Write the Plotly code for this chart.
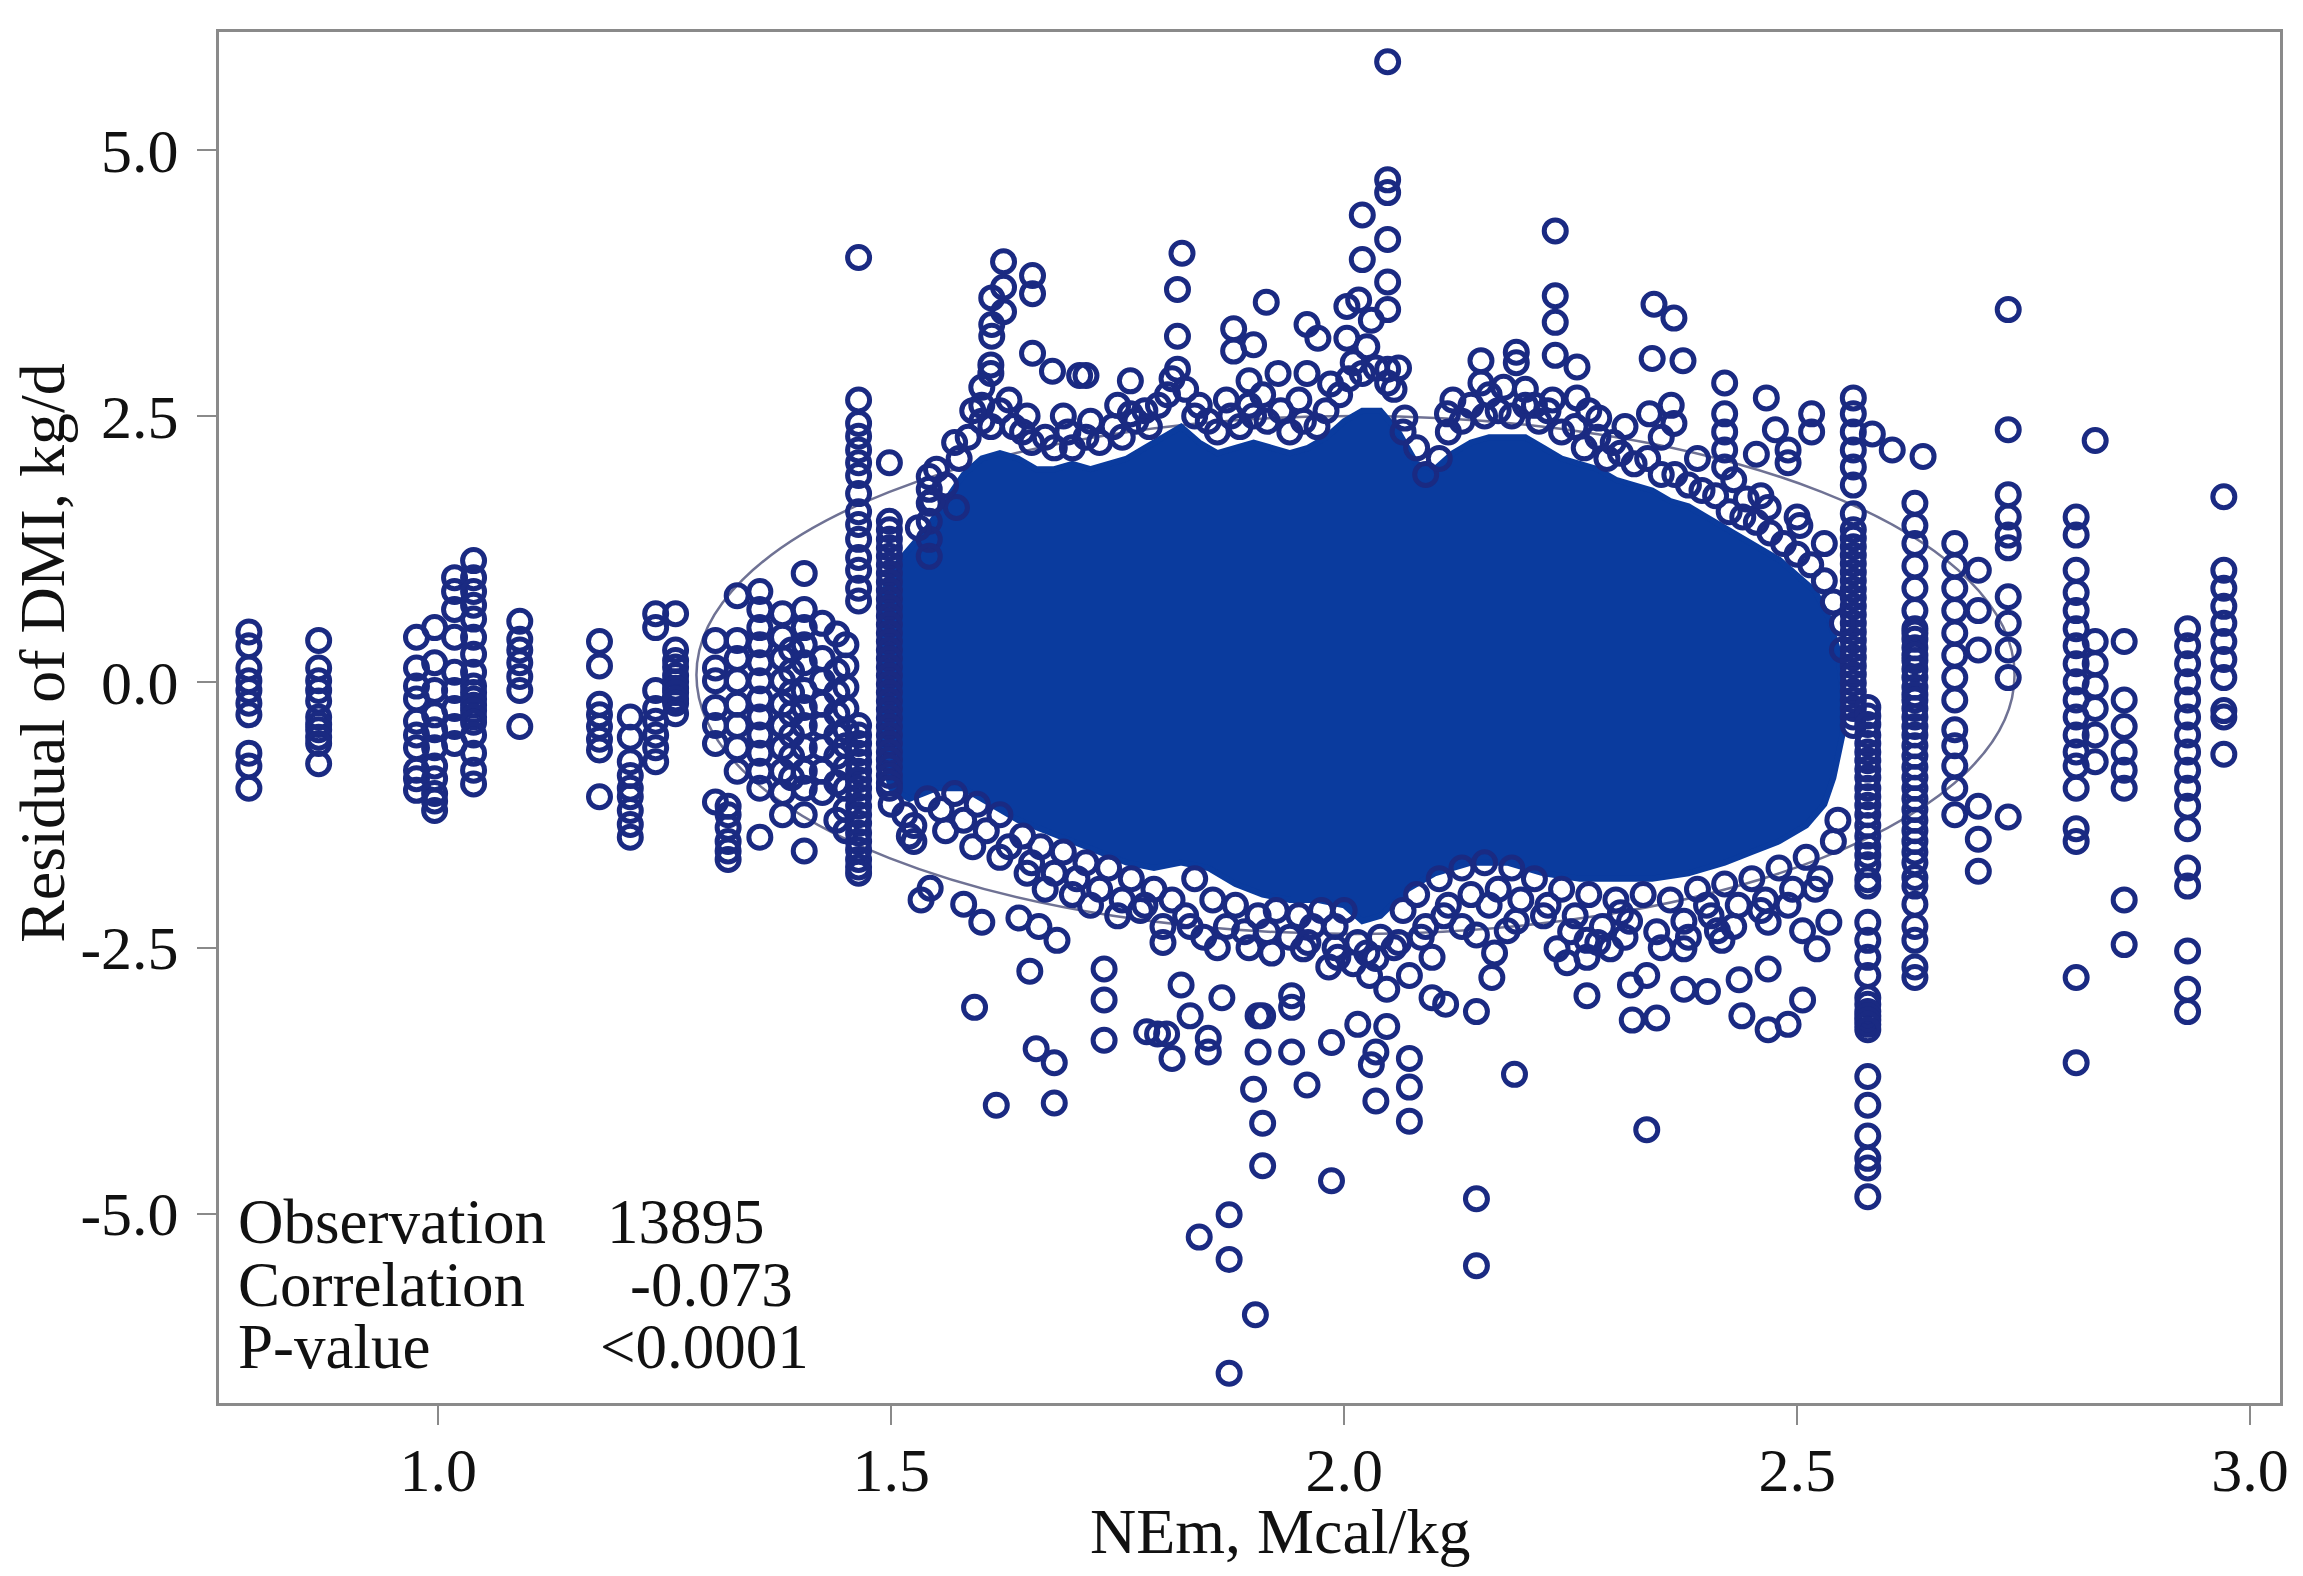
import plotly.graph_objects as go

# ---- data (NEm, Mcal/kg  vs  residual of DMI, kg/d) ----

# columns of observations stacked at one NEm value
stack_nem = [0.791, 0.868, 0.976, 0.996, 1.018, 1.039, 1.09, 1.178, 1.212, 1.24, 1.262,
             1.306, 1.32, 1.33, 1.355, 1.38, 1.39, 1.404, 1.424, 1.44, 1.45, 1.464, 1.498,
             1.542, 2.562, 2.578, 2.63, 2.674, 2.70, 2.733, 2.808, 2.829, 2.861, 2.931,
             2.971]
stack_resid = [
    [0.47, 0.34, 0.13, 0.01, -0.08, -0.20, -0.31, -0.67, -0.79, -1.00],
    [0.39, 0.13, 0.01, -0.08, -0.18, -0.33, -0.40, -0.45, -0.52, -0.58, -0.77],
    [0.42, 0.13, -0.04, -0.16, -0.37, -0.50, -0.62, -0.83, -0.91, -1.02],
    [0.51, 0.18, -0.08, -0.31, -0.45, -0.62, -0.79, -0.91, -1.05, -1.12, -1.21],
    [0.98, 0.85, 0.68, 0.42, 0.09, -0.08, -0.25, -0.42, -0.58],
    [1.14, 0.98, 0.85, 0.72, 0.59, 0.42, 0.26, 0.09, -0.04, -0.10, -0.16, -0.22, -0.27,
     -0.33, -0.38, -0.50, -0.67, -0.83, -0.96],
    [0.57, 0.40, 0.30, 0.18, 0.05, -0.08, -0.42],
    [0.38, 0.15, -0.21, -0.31, -0.42, -0.54, -0.64, -1.08],
    [-0.33, -0.52, -0.75, -0.88, -1.00, -1.08, -1.21, -1.34, -1.46],
    [0.64, 0.51, -0.08, -0.25, -0.37, -0.50, -0.62, -0.75],
    [0.64, 0.30, 0.20, 0.14, 0.06, 0.0, -0.06, -0.10, -0.16, -0.20, -0.30],
    [0.39, 0.13, 0.01, -0.24, -0.41, -0.58, -1.13],
    [-1.17, -1.25, -1.37, -1.50, -1.59, -1.67],
    [0.81, 0.39, 0.22, 0.01, -0.21, -0.41, -0.62, -0.84],
    [0.85, 0.68, 0.51, 0.35, 0.18, 0.01, -0.16, -0.33, -0.50, -0.67, -0.84, -1.00, -1.46],
    [0.64, 0.42, 0.22, 0.01, -0.21, -0.41, -0.62, -0.84, -1.04, -1.25],
    [0.30, 0.10, -0.10, -0.30, -0.50, -0.70, -0.90],
    [1.02, 0.68, 0.51, 0.35, 0.18, -0.08, -0.24, -0.41, -0.62, -0.84, -1.00, -1.25, -1.59],
    [0.55, 0.22, 0.01, -0.21, -0.41, -0.62, -0.84, -1.04],
    [0.45, 0.10, -0.10, -0.30, -0.50, -0.70, -0.95, -1.30],
    [0.35, 0.15, -0.05, -0.25, -0.45, -0.60, -0.80, -1.00, -1.20, -1.40],
    [3.99, 2.65, 2.43, 2.31, 2.18, 2.06, 1.94, 1.77, 1.60, 1.48, 1.34, 1.17, 1.05, 0.88,
     0.76, -0.41, -0.50, -0.58, -0.67, -0.75, -0.84, -0.92, -1.00, -1.08, -1.17, -1.25,
     -1.33, -1.42, -1.50, -1.58, -1.67, -1.74, -1.80],
    [2.06, 1.51, 1.43, 1.34, 1.26, 1.18, 1.10, 1.02, 0.94, 0.86, 0.78, 0.70, 0.62, 0.54,
     0.46, 0.38, 0.30, 0.22, 0.14, 0.06, -0.02, -0.10, -0.18, -0.26, -0.34, -0.42, -0.50,
     -0.58, -0.66, -0.73, -0.80, -0.88, -0.95, -1.00],
    [1.93, 1.81, 1.68, 1.51, 1.34, 1.18],
    [2.67, 2.52, 2.35, 2.18, 2.02, 1.85, 1.58, 1.43, 1.35, 1.27, 1.19, 1.11, 1.03, 0.95,
     0.87, 0.79, 0.71, 0.63, 0.55, 0.47, 0.39, 0.31, 0.23, 0.15, 0.07, -0.01, -0.09,
     -0.17, -0.25, -0.33, -0.41],
    [-0.24, -0.32, -0.40, -0.50, -0.58, -0.66, -0.74, -0.82, -0.90, -1.00, -1.08, -1.16,
     -1.25, -1.35, -1.45, -1.55, -1.63, -1.72, -1.86, -1.92, -2.26, -2.43, -2.59, -2.76,
     -2.97, -3.03, -3.10, -3.14, -3.18, -3.22, -3.27, -3.71, -3.98, -4.27, -4.48, -4.57,
     -4.84],
    [1.68, 1.47, 1.30, 1.09, 0.88, 0.67, 0.50, 0.46, 0.40, 0.32, 0.25, 0.20, 0.12, 0.04,
     -0.05, -0.12, -0.17, -0.25, -0.33, -0.42, -0.50, -0.60, -0.70, -0.80, -0.90, -1.00,
     -1.10, -1.20, -1.30, -1.40, -1.50, -1.60, -1.70, -1.84, -1.92, -2.09, -2.30, -2.43,
     -2.68, -2.78],
    [1.30, 1.09, 0.88, 0.67, 0.46, 0.25, 0.04, -0.17, -0.45, -0.60, -0.79, -1.00, -1.25],
    [1.05, 0.67, 0.30, -1.17, -1.48, -1.78],
    [3.50, 2.37, 1.76, 1.55, 1.38, 1.26, 0.80, 0.55, 0.30, 0.04, -1.27],
    [1.55, 1.38, 1.05, 0.84, 0.67, 0.50, 0.34, 0.17, 0.0, -0.17, -0.33, -0.50, -0.66,
     -0.79, -1.00, -1.38, -1.50, -2.78, -3.58],
    [2.27, 0.38, 0.17, -0.04, -0.25, -0.50, -0.75],
    [0.38, -0.17, -0.42, -0.66, -0.83, -1.00, -2.05, -2.47],
    [0.50, 0.34, 0.17, 0.0, -0.17, -0.33, -0.50, -0.66, -0.83, -1.00, -1.17, -1.38,
     -1.75, -1.92, -2.53, -2.89, -3.10],
    [1.74, 1.05, 0.88, 0.71, 0.55, 0.38, 0.21, 0.04, -0.27, -0.33, -0.68],
]

# isolated observations above the main cloud
upper_points = [
    (1.624, 3.95), (1.624, 3.71), (1.611, 3.61), (1.624, 3.48), (1.611, 3.36), (1.611, 3.25),
    (1.656, 3.82), (1.656, 3.65), (1.656, 3.09), (1.61, 2.98), (1.61, 2.90), (1.60, 2.77),
    (1.60, 2.60), (1.678, 2.92), (1.708, 2.88), (1.715, 2.88), (1.764, 2.83), (1.764, 2.52),
    (1.821, 4.03), (1.816, 3.69), (1.816, 3.25), (1.816, 2.94), (1.914, 3.57), (1.878, 3.32),
    (1.90, 3.17), (1.878, 3.11), (1.895, 2.83), (1.895, 2.60), (1.927, 2.90), (1.959, 3.36),
    (1.971, 3.23), (1.959, 2.90), (2.048, 5.83), (2.048, 4.72), (2.048, 4.60), (2.02, 4.39),
    (2.048, 4.16), (2.02, 3.97), (2.048, 3.76), (2.016, 3.59), (2.003, 3.53), (2.048, 3.50),
    (2.03, 3.40), (2.003, 3.23), (2.025, 3.15), (2.048, 2.94), (2.048, 2.81), (2.151, 3.02),
    (2.151, 2.81), (2.19, 3.10), (2.19, 3.00), (2.176, 2.77), (2.21, 2.60), (2.114, 2.52),
    (2.067, 2.48), (2.233, 4.24), (2.233, 3.63), (2.233, 3.38), (2.233, 3.07), (2.257, 2.96),
    (2.257, 2.67), (2.281, 2.48), (2.297, 2.25), (2.342, 3.55), (2.364, 3.42), (2.34, 3.04),
    (2.374, 3.02), (2.337, 2.52), (2.361, 2.60), (2.364, 2.43), (2.42, 2.81), (2.466, 2.67),
    (2.42, 2.52), (2.42, 2.35), (2.42, 2.18), (2.42, 2.02), (2.476, 2.37), (2.516, 2.52),
    (2.516, 2.35), (2.49, 2.18), (2.49, 2.06), (2.455, 2.14), (2.444, 1.72), (2.468, 1.64),
    (2.503, 1.47), (2.583, 2.33), (2.605, 2.18), (2.639, 2.12), (1.572, 1.64),
]

# isolated observations below the main cloud
lower_points = [
    (1.873, -6.50), (1.902, -5.95), (1.873, -5.43), (1.84, -5.22), (1.873, -5.01),
    (2.146, -4.86), (2.146, -5.49), (1.986, -4.69), (1.91, -4.55), (1.91, -4.15),
    (1.90, -3.83), (2.072, -4.13), (2.072, -3.81), (2.072, -3.54), (2.035, -3.94),
    (2.03, -3.60), (2.035, -3.48), (2.188, -3.69), (1.959, -3.79), (1.942, -3.48),
    (1.942, -3.06), (1.942, -2.95), (1.986, -3.39), (2.015, -3.22), (2.047, -3.24),
    (2.146, -3.10), (2.163, -2.78), (1.905, -3.48), (1.905, -3.14), (1.85, -3.48),
    (1.85, -3.35), (1.81, -3.54), (1.782, -3.29), (1.794, -3.31), (1.804, -3.31),
    (1.735, -3.37), (1.735, -2.99), (1.735, -2.70), (1.68, -3.96), (1.68, -3.58),
    (1.66, -3.45), (1.616, -3.98), (1.592, -3.06), (1.653, -2.72), (1.533, -2.05),
    (1.543, -1.94), (1.525, -1.50), (1.58, -2.09), (1.60, -2.26), (1.641, -2.22),
    (1.663, -2.30), (1.683, -2.43), (1.82, -2.85), (1.83, -3.14), (1.865, -2.97),
    (1.91, -3.14), (2.097, -2.97), (2.112, -3.03), (1.983, -2.68), (2.028, -2.76),
    (2.047, -2.89), (2.072, -2.76), (2.097, -2.59), (2.146, -2.38), (2.166, -2.55),
    (2.18, -2.34), (1.955, -2.51), (1.993, -2.59), (2.334, -4.21), (2.468, -2.26),
    (2.468, -2.70), (2.506, -2.99), (2.49, -3.22), (2.468, -3.27), (2.436, -2.80),
    (2.439, -3.14), (2.401, -2.91), (2.375, -2.51), (2.375, -2.89), (2.334, -2.76),
    (2.318, -3.18), (2.345, -3.16), (2.268, -2.95), (2.316, -2.85), (2.235, -2.51),
    (2.246, -2.64), (2.268, -2.43), (2.268, -2.59), (2.294, -2.51), (2.305, -2.17),
    (2.412, -2.34), (2.417, -2.43), (2.506, -2.34), (2.522, -2.51), (2.535, -2.26),
]

# circles along the ragged top and bottom edge of the dense cloud
edge_points = [
    (1.53, 1.45), (1.545, 1.70), (1.56, 1.85), (1.575, 2.10), (1.585, 2.30), (1.60, 2.45),
    (1.61, 2.40), (1.62, 2.55), (1.635, 2.40), (1.645, 2.35), (1.655, 2.25), (1.67, 2.30),
    (1.68, 2.20), (1.695, 2.35), (1.70, 2.20), (1.715, 2.30), (1.73, 2.25), (1.745, 2.40),
    (1.755, 2.30), (1.77, 2.45), (1.785, 2.40), (1.795, 2.60), (1.805, 2.70), (1.825, 2.75),
    (1.835, 2.50), (1.85, 2.45), (1.86, 2.35), (1.875, 2.50), (1.885, 2.40), (1.90, 2.50),
    (1.915, 2.45), (1.93, 2.55), (1.94, 2.35), (1.955, 2.45), (1.97, 2.40), (1.98, 2.55),
    (1.995, 2.70), (2.005, 2.85), (2.02, 2.90), (2.035, 2.95), (2.055, 2.75), (2.065, 2.35),
    (2.08, 2.20), (2.09, 1.95), (2.105, 2.10), (2.115, 2.35), (2.13, 2.45), (2.14, 2.60),
    (2.155, 2.50), (2.17, 2.55), (2.185, 2.50), (2.20, 2.60), (2.215, 2.45), (2.225, 2.55),
    (2.24, 2.35), (2.255, 2.40), (2.265, 2.20), (2.28, 2.30), (2.29, 2.10), (2.305, 2.15),
    (2.32, 2.05), (2.335, 2.10), (2.35, 1.95), (2.365, 1.95), (2.38, 1.85), (2.395, 1.80),
    (2.41, 1.75), (2.425, 1.60), (2.44, 1.55), (2.455, 1.50), (2.47, 1.40), (2.485, 1.30),
    (2.50, 1.20), (2.515, 1.10), (2.53, 0.95), (2.54, 0.75), (2.55, 0.55), (2.55, 0.30),
    (1.55, 2.00), (1.57, 2.25), (1.59, 2.55), (1.63, 2.65), (1.65, 2.50), (1.69, 2.50),
    (1.72, 2.45), (1.75, 2.60), (1.78, 2.55), (1.81, 2.85), (1.84, 2.60), (1.87, 2.65),
    (1.91, 2.70), (1.95, 2.65), (1.985, 2.80), (2.01, 3.00), (2.06, 2.95), (2.12, 2.65),
    (2.16, 2.70), (2.20, 2.75), (2.23, 2.65), (2.27, 2.55), (2.31, 2.40), (2.35, 2.30),
    (2.39, 2.10), (2.43, 1.90), (2.46, 1.75), (2.50, 1.55), (2.53, 1.30),
    (1.50, -1.15), (1.515, -1.25), (1.525, -1.35), (1.54, -1.10), (1.555, -1.20),
    (1.57, -1.05), (1.58, -1.30), (1.595, -1.15), (1.605, -1.40), (1.62, -1.25),
    (1.63, -1.55), (1.645, -1.45), (1.655, -1.70), (1.665, -1.55), (1.68, -1.80),
    (1.69, -1.60), (1.705, -1.85), (1.715, -1.70), (1.73, -1.95), (1.74, -1.75),
    (1.755, -2.05), (1.765, -1.85), (1.775, -2.15), (1.79, -1.95), (1.80, -2.30),
    (1.81, -2.05), (1.825, -2.20), (1.835, -1.85), (1.845, -2.40), (1.855, -2.05),
    (1.87, -2.30), (1.88, -2.10), (1.895, -2.50), (1.905, -2.20), (1.915, -2.35),
    (1.925, -2.15), (1.94, -2.40), (1.95, -2.20), (1.965, -2.30), (1.975, -2.15),
    (1.99, -2.30), (2.00, -2.15), (2.015, -2.45), (2.025, -2.55), (2.04, -2.40),
    (2.055, -2.50), (2.065, -2.15), (2.08, -2.00), (2.09, -2.30), (2.105, -1.85),
    (2.115, -2.10), (2.13, -1.75), (2.14, -2.00), (2.155, -1.70), (2.17, -1.95),
    (2.185, -1.75), (2.195, -2.05), (2.21, -1.85), (2.225, -2.10), (2.24, -1.95),
    (2.255, -2.20), (2.27, -2.00), (2.285, -2.30), (2.30, -2.05), (2.315, -2.25),
    (2.33, -2.00), (2.345, -2.35), (2.36, -2.05), (2.375, -2.25), (2.39, -1.95),
    (2.405, -2.20), (2.42, -1.90), (2.435, -2.10), (2.45, -1.85), (2.465, -2.05),
    (2.48, -1.75), (2.495, -1.95), (2.51, -1.65), (2.525, -1.85), (2.54, -1.50),
    (2.545, -1.30),
    (1.52, -1.45), (1.56, -1.40), (1.59, -1.55), (1.62, -1.65), (1.65, -1.80),
    (1.67, -1.95), (1.70, -2.00), (1.72, -2.10), (1.75, -2.20), (1.78, -2.10),
    (1.80, -2.45), (1.83, -2.30), (1.86, -2.50), (1.89, -2.35), (1.92, -2.55),
    (1.96, -2.45), (1.99, -2.50), (2.01, -2.65), (2.035, -2.60), (2.06, -2.45),
    (2.085, -2.40), (2.11, -2.20), (2.13, -2.30), (2.16, -2.10), (2.19, -2.25),
    (2.22, -2.20), (2.25, -2.35), (2.28, -2.45), (2.31, -2.40), (2.35, -2.50),
    (2.38, -2.40), (2.40, -2.10), (2.43, -2.30), (2.46, -2.15), (2.49, -2.10),
    (2.52, -1.95),
]

# outline of the over-plotted core, where the circles merge into solid colour
core_outline = [
    (1.49, 0.8), (1.50, 1.05), (1.52, 1.25), (1.54, 1.45), (1.56, 1.7), (1.58, 1.95),
    (1.60, 2.1), (1.62, 2.15), (1.64, 2.1), (1.66, 2.0), (1.68, 2.0), (1.70, 2.05),
    (1.72, 2.0), (1.74, 2.05), (1.76, 2.1), (1.78, 2.2), (1.80, 2.3), (1.82, 2.4),
    (1.84, 2.25), (1.86, 2.15), (1.88, 2.2), (1.90, 2.25), (1.92, 2.2), (1.94, 2.15),
    (1.96, 2.2), (1.98, 2.3), (2.00, 2.45), (2.02, 2.55), (2.04, 2.55), (2.06, 2.35),
    (2.08, 2.05), (2.10, 2.0), (2.12, 2.15), (2.14, 2.25), (2.16, 2.3), (2.18, 2.3),
    (2.20, 2.3), (2.22, 2.2), (2.24, 2.1), (2.26, 2.05), (2.28, 2.0), (2.30, 1.9),
    (2.32, 1.85), (2.34, 1.8), (2.36, 1.7), (2.38, 1.65), (2.40, 1.55), (2.42, 1.45),
    (2.44, 1.35), (2.46, 1.25), (2.48, 1.15), (2.50, 1.0), (2.52, 0.85), (2.535, 0.6),
    (2.545, 0.3), (2.55, -0.1), (2.55, -0.5), (2.54, -0.9), (2.53, -1.15), (2.51, -1.35),
    (2.48, -1.5), (2.45, -1.6), (2.42, -1.7), (2.38, -1.8), (2.34, -1.85), (2.30, -1.85),
    (2.26, -1.85), (2.22, -1.8), (2.18, -1.7), (2.14, -1.7), (2.10, -1.8), (2.07, -1.95),
    (2.04, -2.2), (2.02, -2.25), (2.00, -2.1), (1.97, -2.05), (1.94, -2.05), (1.91, -2.0),
    (1.88, -1.9), (1.85, -1.75), (1.82, -1.7), (1.79, -1.75), (1.76, -1.7), (1.73, -1.6),
    (1.70, -1.5), (1.67, -1.4), (1.64, -1.3), (1.61, -1.15), (1.58, -1.0), (1.55, -1.0),
    (1.52, -1.1), (1.50, -1.0), (1.49, -0.7), (1.49, 0.8),
]

# 95% prediction ellipse (bounding values)
ellipse_nem = [1.285, 2.74]
ellipse_resid = [-2.37, 2.50]

x_ticks = [1.0, 1.5, 2.0, 2.5, 3.0]
x_tick_text = ["1.0", "1.5", "2.0", "2.5", "3.0"]
y_ticks = [-5.0, -2.5, 0.0, 2.5, 5.0]
y_tick_text = ["-5.0", "-2.5", "0.0", "2.5", "5.0"]

stats_labels = ["Observation", "Correlation", "P-value"]
stats_values = ["13895", "-0.073", "<0.0001"]

# ---- assemble ----
nem, resid = [], []
for x, ys in zip(stack_nem, stack_resid):
    nem += [x] * len(ys)
    resid += ys
for x, y in upper_points + lower_points + edge_points:
    nem.append(x)
    resid.append(y)
core_nem = [p[0] for p in core_outline]
core_resid = [p[1] for p in core_outline]

FONT = "Liberation Serif, Times New Roman, serif"
DOT = "#1a2a82"
CORE = "#0a3b9e"
FRAME = "#8a8a8a"
INK = "#111111"

fig = go.Figure()

fig.add_trace(go.Scatter(
    x=core_nem, y=core_resid, mode="lines", fill="toself",
    fillcolor=CORE, line=dict(color=CORE, width=6),
    hoverinfo="skip", showlegend=False,
))
fig.add_trace(go.Scatter(
    x=nem, y=resid, mode="markers",
    marker=dict(symbol="circle-open", size=22, color=DOT, line=dict(width=5)),
    showlegend=False,
))

fig.add_shape(type="circle", xref="x", yref="y", layer="below",
              x0=ellipse_nem[0], x1=ellipse_nem[1],
              y0=ellipse_resid[0], y1=ellipse_resid[1],
              line=dict(color="#6f7294", width=2.5))

axis_common = dict(
    showgrid=False, zeroline=False, showline=True, mirror=True,
    linecolor=FRAME, linewidth=3, ticks="outside", ticklen=19,
    tickwidth=2, tickcolor=FRAME,
    tickfont=dict(family=FONT, size=62, color=INK),
)
fig.update_xaxes(range=[0.758, 3.033], tickvals=x_ticks, ticktext=x_tick_text,
                 ticklabelstandoff=-8, **axis_common)
fig.update_yaxes(range=[-6.78, 6.11], tickvals=y_ticks, ticktext=y_tick_text,
                 ticklabelstandoff=6, **axis_common)

# axis titles
fig.add_annotation(text="NEm, Mcal/kg", xref="paper", yref="paper",
                   x=0.515, y=-0.094, xanchor="center", yanchor="middle",
                   showarrow=False, font=dict(family=FONT, size=64, color=INK))
fig.add_annotation(text="Residual of DMI, kg/d", xref="paper", yref="paper",
                   x=-0.086, y=0.547, xanchor="center", yanchor="middle",
                   textangle=-90, showarrow=False,
                   font=dict(family=FONT, size=64, color=INK))

# statistics box in the lower-left corner
row_y = [0.132, 0.086, 0.041]
value_x = [0.1878, 0.1988, 0.1846]
for lab, val, yy, vx in zip(stats_labels, stats_values, row_y, value_x):
    fig.add_annotation(text=lab, xref="paper", yref="paper", x=0.0088, y=yy,
                       xanchor="left", yanchor="middle", showarrow=False,
                       borderpad=0, font=dict(family=FONT, size=63, color=INK))
    fig.add_annotation(text=val, xref="paper", yref="paper", x=vx, y=yy,
                       xanchor="left", yanchor="middle", showarrow=False,
                       borderpad=0, font=dict(family=FONT, size=63, color=INK))

fig.update_layout(
    width=2303, height=1576, autosize=False,
    margin=dict(l=211, r=31, t=24, b=181),
    paper_bgcolor="white", plot_bgcolor="white",
)

fig.write_html("out.html")
